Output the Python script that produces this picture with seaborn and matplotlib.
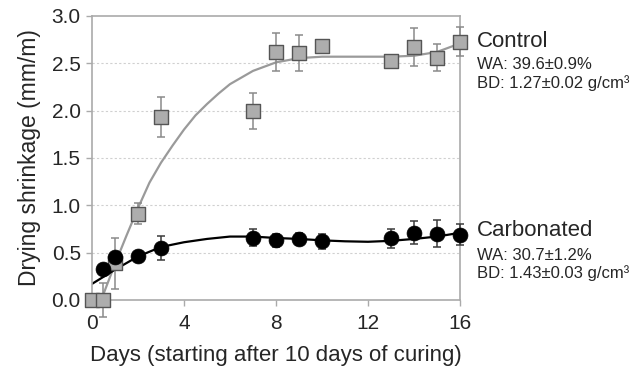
import numpy as np
import pandas as pd
import matplotlib
matplotlib.use("Agg")
import matplotlib.pyplot as plt
import seaborn as sns

# measured points
control_days = [0, 0.5, 1, 2, 3, 7, 8, 9, 10, 13, 14, 15, 16]
control_val = [0.0, 0.0, 0.39, 0.91, 1.93, 2.0, 2.62, 2.61, 2.68, 2.52, 2.67, 2.56, 2.73]
control_err = [0.0, 0.18, 0.27, 0.11, 0.21, 0.19, 0.2, 0.19, 0.04, 0.03, 0.2, 0.14, 0.15]

carb_days = [0.5, 1, 2, 3, 7, 8, 9, 10, 13, 14, 15, 16]
carb_val = [0.33, 0.45, 0.47, 0.55, 0.66, 0.63, 0.645, 0.62, 0.65, 0.71, 0.70, 0.69]
carb_err = [0.0, 0.0, 0.0, 0.13, 0.09, 0.07, 0.06, 0.08, 0.1, 0.12, 0.14, 0.11]

# trend lines
control_fit_x = [0.4, 1, 1.5, 2, 2.5, 3, 3.5, 4, 4.5, 5, 5.5, 6, 7, 8, 9, 10, 11, 12, 13, 14, 15, 16]
control_fit_y = [0.0, 0.38, 0.68, 0.97, 1.24, 1.45, 1.63, 1.80, 1.95, 2.07, 2.18, 2.28, 2.42, 2.51, 2.555, 2.57, 2.57, 2.57, 2.57, 2.58, 2.62, 2.71]

carb_fit_x = [0, 1, 2, 3, 4, 5, 6, 7, 8, 9, 10, 11, 12, 13, 14, 15, 16]
carb_fit_y = [0.17, 0.32, 0.46, 0.56, 0.61, 0.645, 0.67, 0.67, 0.655, 0.645, 0.63, 0.62, 0.615, 0.625, 0.645, 0.67, 0.71]

labels = ["Control", "Carbonated"]
info = [["WA: 39.6\u00b10.9%", "BD: 1.27\u00b10.02 g/cm\u00b3"],
        ["WA: 30.7\u00b11.2%", "BD: 1.43\u00b10.03 g/cm\u00b3"]]

sns.set_theme(style="ticks")
plt.rcParams['font.family'] = ['Liberation Sans', 'DejaVu Sans']

fig = plt.figure(figsize=(6.33, 3.70), dpi=100)
ax = fig.add_axes([0.1453, 0.1892, 0.5814, 0.7676])

pts = pd.concat([
    pd.DataFrame({"day": control_days, "val": control_val, "err": control_err, "grp": "Control"}),
    pd.DataFrame({"day": carb_days, "val": carb_val, "err": carb_err, "grp": "Carbonated"}),
])
fits = pd.concat([
    pd.DataFrame({"day": control_fit_x, "val": control_fit_y, "grp": "Control"}),
    pd.DataFrame({"day": carb_fit_x, "val": carb_fit_y, "grp": "Carbonated"}),
])

line_col = {"Control": "#9a9a9a", "Carbonated": "#000000"}
err_col = {"Control": "#8a8a8a", "Carbonated": "#3a3a3a"}

sns.lineplot(data=fits, x="day", y="val", hue="grp", palette=line_col,
             linewidth=1.6, legend=False, ax=ax, sort=False, zorder=2)

for g, d in pts.groupby("grp"):
    ax.errorbar(d["day"], d["val"], yerr=d["err"], fmt="none", ecolor=err_col[g],
                elinewidth=1.1, capsize=3, capthick=1.1, zorder=3, clip_on=False)

c = pts[pts.grp == "Control"]
sns.scatterplot(data=c, x="day", y="val", marker="s", s=95, color="#adadad",
                edgecolor="#555555", linewidth=1.0, ax=ax, zorder=4, clip_on=False)
b = pts[pts.grp == "Carbonated"]
sns.scatterplot(data=b, x="day", y="val", marker="o", s=115, color="#000000",
                edgecolor="#000000", linewidth=0.5, ax=ax, zorder=5, clip_on=False)

ax.set_xlim(0, 16)
ax.set_ylim(0, 3.0)
ax.set_xticks([0, 4, 8, 12, 16])
ax.set_yticks(np.arange(0, 3.01, 0.5))
ax.set_yticklabels([f"{v:.1f}" for v in np.arange(0, 3.01, 0.5)])
ax.tick_params(labelsize=15, length=4, color="#aaaaaa", width=1, pad=4)
ax.tick_params(axis="x", pad=6)
for y in [0.5, 1.0, 1.5, 2.0, 2.5]:
    ax.axhline(y, color="#d0d0d0", linestyle=(0, (2, 2)), linewidth=0.8, zorder=0)
for s in ax.spines.values():
    s.set_visible(True)
    s.set_color("#aaaaaa")
    s.set_linewidth(1.2)

ax.set_xlabel("Days (starting after 10 days of curing)", fontsize=16, labelpad=9)
ax.set_ylabel("Drying shrinkage (mm/m)", fontsize=16.5, labelpad=8)

# labels on the right
tx = 477 / 633
ax.text(tx, 1 - 41.7 / 370, labels[0], transform=fig.transFigure, fontsize=16, va="center")
ax.text(tx, 1 - 64.5 / 370, info[0][0], transform=fig.transFigure, fontsize=12, va="center")
ax.text(tx, 1 - 83.5 / 370, info[0][1], transform=fig.transFigure, fontsize=12, va="center")
ax.text(tx, 1 - 230.7 / 370, labels[1], transform=fig.transFigure, fontsize=16, va="center")
ax.text(tx, 1 - 255 / 370, info[1][0], transform=fig.transFigure, fontsize=12, va="center")
ax.text(tx, 1 - 273.5 / 370, info[1][1], transform=fig.transFigure, fontsize=12, va="center")

fig.savefig("out.png", dpi=100)
